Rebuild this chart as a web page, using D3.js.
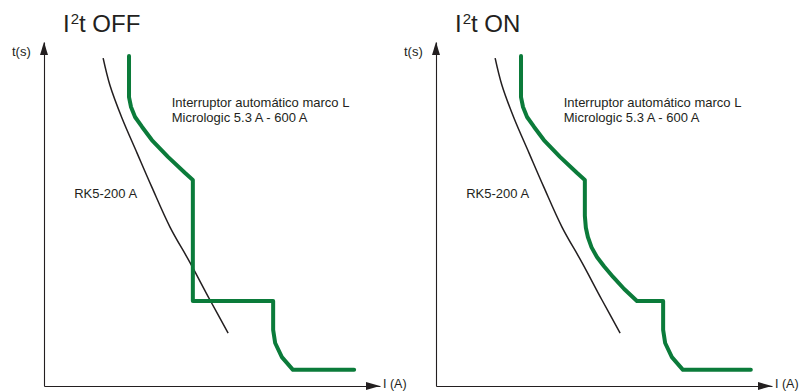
<!DOCTYPE html>
<html><head><meta charset="utf-8">
<script src="https://cdnjs.cloudflare.com/ajax/libs/d3/7.8.5/d3.min.js"></script>
<style>
body{margin:0;background:#fff}
svg{display:block}
text{font-family:"Liberation Sans",Arial,Helvetica,sans-serif;fill:#231f20}
</style>
</head><body>
<svg id="chart" width="808" height="391"></svg>
<script>
// ---- data (arbitrary units: current I 0..100, time t 0..100, no ticks in original) ----
const panelTitles = ["OFF", "ON"];
const breakerLabel = ["Interruptor automático marco L", "Micrologic 5.3 A - 600 A"];
const fuseLabel = "RK5-200 A";
const xAxisLabel = "I (A)";
const yAxisLabel = "t(s)";

// RK5-200 A fuse curve (same in both panels)
const rk5I = [17.6, 19.6, 23.2, 27.7, 32.1, 37.5, 43.5, 49.4, 54.8];
const rk5T = [95.3, 87.5, 77.9, 67.7, 57.8, 46.2, 35.8, 25.0, 15.4];

// Micrologic curve, I²t OFF
const offI = [25.3, 25.3, 25.9, 27.1, 29.2, 32.1, 36.9, 42.0, 44.3, 44.3, 68.2, 68.2, 68.8, 70.8, 74.1, 92.3];
const offT = [95.9, 84.0, 81.1, 78.2, 75.3, 71.5, 66.6, 61.9, 59.9, 24.7, 24.7, 16.3, 12.5, 8.4, 4.7, 4.7];

// Micrologic curve, I²t ON
const onI = [25.3, 25.3, 25.9, 27.1, 29.2, 32.1, 36.9, 42.0, 44.3, 44.3, 44.6, 45.2, 46.3, 47.9, 50.0, 52.7, 56.0, 59.8, 67.6, 67.6, 68.2, 70.2, 73.5, 93.7];
const onT = [95.9, 84.0, 81.1, 78.2, 75.3, 71.5, 66.6, 61.9, 59.9, 49.5, 46.0, 43.3, 40.3, 37.5, 34.8, 31.7, 28.2, 24.7, 24.7, 16.3, 12.5, 8.4, 4.7, 4.7];

const panels = [
  {title: panelTitles[0], I: offI, T: offT, ox: 44},
  {title: panelTitles[1], I: onI, T: onT, ox: 436}
];

const svg = d3.select("#chart");
const axisY0 = 386, axisTop = 42, axisLen = 336;
const ink = "#231f20", green = "#0b7b3a";

panels.forEach(p => {
  const g = svg.append("g");
  const x = d3.scaleLinear().domain([0, 100]).range([p.ox, p.ox + axisLen]);
  const y = d3.scaleLinear().domain([0, 100]).range([axisY0, axisTop]);

  // axes (no ticks)
  const xa = g.append("g").attr("transform", `translate(0,${axisY0})`)
    .call(d3.axisBottom(x).tickValues([]).tickSizeOuter(0));
  const ya = g.append("g").attr("transform", `translate(${p.ox},0)`)
    .call(d3.axisLeft(y).tickValues([]).tickSizeOuter(0));
  [xa, ya].forEach(a => a.select(".domain").attr("stroke", ink).attr("stroke-width", 1.1));

  // arrowheads
  const xt = x(100), yt = y(100);
  g.append("path").attr("d", `M${xt},${axisY0} L${xt - 14},${axisY0 - 4} L${xt - 14},${axisY0 + 4} Z`).attr("fill", ink);
  g.append("path").attr("d", `M${p.ox},${yt} L${p.ox - 4},${yt + 13} L${p.ox + 4},${yt + 13} Z`).attr("fill", ink);

  // axis labels
  g.append("text").attr("x", xt + 3).attr("y", axisY0 + 2).attr("font-size", 12.5).text(xAxisLabel);
  g.append("text").attr("x", p.ox - 32).attr("y", 56).attr("font-size", 13).text(yAxisLabel);

  // title I²t
  const t = g.append("text").attr("x", p.ox + 19).attr("y", 32).attr("font-size", 24);
  t.append("tspan").text("I");
  t.append("tspan").attr("font-size", 15).attr("dx", 1).attr("dy", -8).text("2");
  t.append("tspan").attr("dy", 8).text("t " + p.title);

  // fuse curve
  g.append("path")
    .attr("d", d3.line().x(d => x(d[0])).y(d => y(d[1])).curve(d3.curveCatmullRom.alpha(0.5))(d3.zip(rk5I, rk5T)))
    .attr("fill", "none").attr("stroke", ink).attr("stroke-width", 1.5);

  // breaker curve
  g.append("path")
    .attr("d", d3.line().x(d => x(d[0])).y(d => y(d[1]))(d3.zip(p.I, p.T)))
    .attr("fill", "none").attr("stroke", green).attr("stroke-width", 4)
    .attr("stroke-linejoin", "round").attr("stroke-linecap", "round");

  // labels
  g.append("text").attr("x", x(9)).attr("y", y(54.7)).attr("font-size", 13).text(fuseLabel);
  breakerLabel.forEach((s, i) =>
    g.append("text").attr("x", x(38)).attr("y", y(81.1) + i * 15).attr("font-size", 13).text(s));
});
</script>
</body></html>
